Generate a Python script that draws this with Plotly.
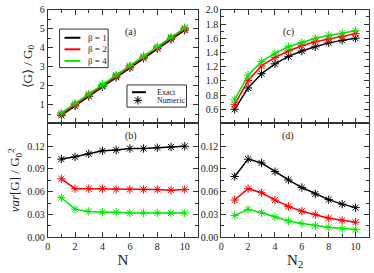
import plotly.graph_objects as go

N = [1, 2, 3, 4, 5, 6, 7, 8, 9, 10]

# (a) <G>/G0 vs N
a_b1 = [0.43, 0.93, 1.43, 1.94, 2.44, 2.94, 3.45, 3.95, 4.45, 4.93]
a_b2 = [0.50, 1.00, 1.50, 2.00, 2.50, 3.00, 3.50, 4.00, 4.50, 5.00]
a_b4 = [0.56, 1.06, 1.56, 2.06, 2.56, 3.06, 3.56, 4.06, 4.56, 5.05]

# (b) var[G]/G0^2 vs N
b_b1 = [0.103, 0.106, 0.110, 0.114, 0.115, 0.117, 0.117, 0.118, 0.119, 0.120]
b_b2 = [0.077, 0.064, 0.064, 0.064, 0.063, 0.063, 0.063, 0.063, 0.062, 0.063]
b_b4 = [0.052, 0.037, 0.034, 0.033, 0.033, 0.032, 0.032, 0.032, 0.032, 0.032]

# (c) <G>/G0 vs N2
c_b1 = [0.60, 0.90, 1.10, 1.24, 1.345, 1.42, 1.48, 1.535, 1.57, 1.60]
c_b2 = [0.67, 1.005, 1.21, 1.33, 1.42, 1.495, 1.55, 1.59, 1.63, 1.665]
c_b4 = [0.735, 1.08, 1.27, 1.39, 1.48, 1.54, 1.60, 1.64, 1.67, 1.705]

# (d) var[G]/G0^2 vs N2
d_b1 = [0.080, 0.103, 0.098, 0.0865, 0.0755, 0.0655, 0.057, 0.0495, 0.0436, 0.039]
d_b2 = [0.049, 0.064, 0.0586, 0.049, 0.0406, 0.0343, 0.0297, 0.0251, 0.0222, 0.0197]
d_b4 = [0.0285, 0.0368, 0.0323, 0.0268, 0.0214, 0.018, 0.015, 0.013, 0.0113, 0.010]

betas = ["β = 1", "β = 2", "β = 4"]
colors = ["#000000", "#ff0000", "#00e600"]
legend2_names = ["Exact", "Numeric"]

FONT = "Liberation Serif"
AX = "#333333"
TXT = "#222222"

W, H = 374, 273
XR = [0, 11]
YR_A = [0, 6]

# plot-area pixel boxes
L_X0, L_X1 = 45, 197
R_X0, R_X1 = 220, 369
T_Y0, T_Y1 = 5, 123
B_Y0, B_Y1 = 123, 241

fig = go.Figure()

panels = [
    ("x", "y", [a_b1, a_b2, a_b4]),
    ("x2", "y2", [c_b1, c_b2, c_b4]),
    ("x3", "y3", [b_b1, b_b2, b_b4]),
    ("x4", "y4", [d_b1, d_b2, d_b4]),
]
for xa, ya, series in panels:
    for vals, col, nm in zip(series, colors, betas):
        fig.add_trace(go.Scatter(
            x=N, y=vals, xaxis=xa, yaxis=ya, mode="lines+markers", name=nm,
            line=dict(color=col, width=1.5),
            marker=dict(symbol="asterisk-open", size=7, color=col,
                        line=dict(color=col, width=1)),
            showlegend=False, hoverinfo="skip"))


def px(x):
    return x / W


def py(y):
    return (H - y) / H


shapes = []
annotations = []

# legend 1 box
shapes.append(dict(type="rect", xref="paper", yref="paper",
                   x0=px(57), x1=px(106), y0=py(65), y1=py(25),
                   line=dict(color=AX, width=1), fillcolor="white", layer="above"))
for i, (name, col) in enumerate(zip(betas, colors)):
    yy = 34 + i * 12
    shapes.append(dict(type="line", xref="paper", yref="paper",
                       x0=px(62), x1=px(78), y0=py(yy), y1=py(yy),
                       line=dict(color=col, width=2), layer="above"))
    annotations.append(dict(text=name, x=px(84), y=py(yy), xref="paper",
                            yref="paper", xanchor="left", yanchor="middle",
                            showarrow=False,
                            font=dict(family=FONT, size=9, color=TXT)))

# legend 2 box
shapes.append(dict(type="rect", xref="paper", yref="paper",
                   x0=px(125), x1=px(185), y0=py(106), y1=py(83),
                   line=dict(color=AX, width=1), fillcolor="white", layer="below"))
shapes.append(dict(type="line", xref="paper", yref="paper",
                   x0=px(130), x1=px(144), y0=py(90.5), y1=py(90.5),
                   line=dict(color="black", width=2), layer="above"))
annotations.append(dict(text=legend2_names[0], x=px(153), y=py(90.5),
                        xref="paper", yref="paper", xanchor="left",
                        yanchor="middle", showarrow=False,
                        font=dict(family=FONT, size=8, color=TXT)))
annotations.append(dict(text=legend2_names[1], x=px(153), y=py(99),
                        xref="paper", yref="paper", xanchor="left",
                        yanchor="middle", showarrow=False,
                        font=dict(family=FONT, size=8, color=TXT)))

# star symbol of the "Numeric" legend entry, placed in panel (a) data units
star_px, star_py = 136, 99
star_x = XR[0] + (star_px - L_X0) / (L_X1 - L_X0) * (XR[1] - XR[0])
star_y = YR_A[0] + (T_Y1 - star_py) / (T_Y1 - T_Y0) * (YR_A[1] - YR_A[0])
fig.add_trace(go.Scatter(
    x=[star_x], y=[star_y], xaxis="x", yaxis="y", mode="markers",
    marker=dict(symbol="asterisk-open", size=7, color="black",
                line=dict(color="black", width=1)),
    showlegend=False, hoverinfo="skip"))

xl = [L_X0 / W, L_X1 / W]
xr = [R_X0 / W, R_X1 / W]
yt = [py(T_Y1), py(T_Y0)]
yb = [py(B_Y1), py(B_Y0)]

tickfont = dict(family=FONT, size=10, color=TXT)


def xaxis(domain, anchor, labels, title=None):
    d = dict(domain=domain, anchor=anchor, range=XR, showline=True,
             linecolor=AX, linewidth=1, mirror="ticks", ticks="inside",
             ticklen=5, tickcolor=AX, tickmode="array",
             tickvals=[0, 2, 4, 6, 8, 10], showgrid=False, zeroline=False,
             showticklabels=labels, tickfont=tickfont,
             minor=dict(ticks="inside", ticklen=3, tickcolor=AX, dtick=1,
                        tick0=0, showgrid=False))
    if title:
        d["title"] = dict(text=title, font=dict(family=FONT, size=15, color=TXT),
                          standoff=1)
    return d


def yaxis(domain, anchor, rng, tickvals, ticktext, minor_dtick, title=None):
    d = dict(domain=domain, anchor=anchor, range=rng, showline=True,
             linecolor=AX, linewidth=1, mirror="ticks", ticks="inside",
             ticklen=5, tickcolor=AX, tickmode="array", tickvals=tickvals,
             ticktext=ticktext, showgrid=False, zeroline=False,
             tickfont=tickfont, ticklabeloverflow="allow",
             minor=dict(ticks="inside", ticklen=3, tickcolor=AX,
                        dtick=minor_dtick, tick0=0, showgrid=False))
    if title:
        d["title"] = dict(text=title, font=dict(family=FONT, size=13, color=TXT),
                          standoff=4)
    return d


yv_a = [1, 2, 3, 4, 5, 6]
yv_c = [0.6, 0.8, 1.0, 1.2, 1.4, 1.6, 1.8, 2.0]
yv_b = [0, 0.03, 0.06, 0.09, 0.12]

panel_labels = ["(a)", "(c)", "(b)", "(d)"]
label_pos = [(121, 20), (295, 20), (121, 136), (295, 136)]
for t, (lx, ly) in zip(panel_labels, label_pos):
    annotations.append(dict(text=t, x=px(lx), y=py(ly), xref="paper",
                            yref="paper", showarrow=False,
                            font=dict(family=FONT, size=10, color=TXT)))

fig.update_layout(
    width=W, height=H, margin=dict(l=0, r=0, t=0, b=0, pad=0),
    autosize=False,
    plot_bgcolor="white", paper_bgcolor="white",
    font=dict(family=FONT, color=TXT),
    showlegend=False,
    xaxis=xaxis(xl, "y", False),
    yaxis=yaxis(yt, "x", YR_A, yv_a, [str(v) for v in yv_a], 0.5,
                "⟨G⟩ / G<sub>0</sub>"),
    xaxis2=xaxis(xr, "y2", False),
    yaxis2=yaxis(yt, "x2", [0.4, 2.0], yv_c, ["%.1f" % v for v in yv_c], 0.1),
    xaxis3=xaxis(xl, "y3", True, "N"),
    yaxis3=yaxis(yb, "x3", [0, 0.15], yv_b, ["%.2f" % v for v in yv_b], 0.015,
                 "<i>var</i>[G] / G<sub>0</sub><sup>2</sup>"),
    xaxis4=xaxis(xr, "y4", True, "N<sub>2</sub>"),
    yaxis4=yaxis(yb, "x4", [0, 0.15], yv_b, ["%.2f" % v for v in yv_b], 0.015),
    shapes=shapes,
    annotations=annotations,
)

fig.write_html("out.html", config={"displayModeBar": False},
               post_script="document.body.style.margin='0';")
